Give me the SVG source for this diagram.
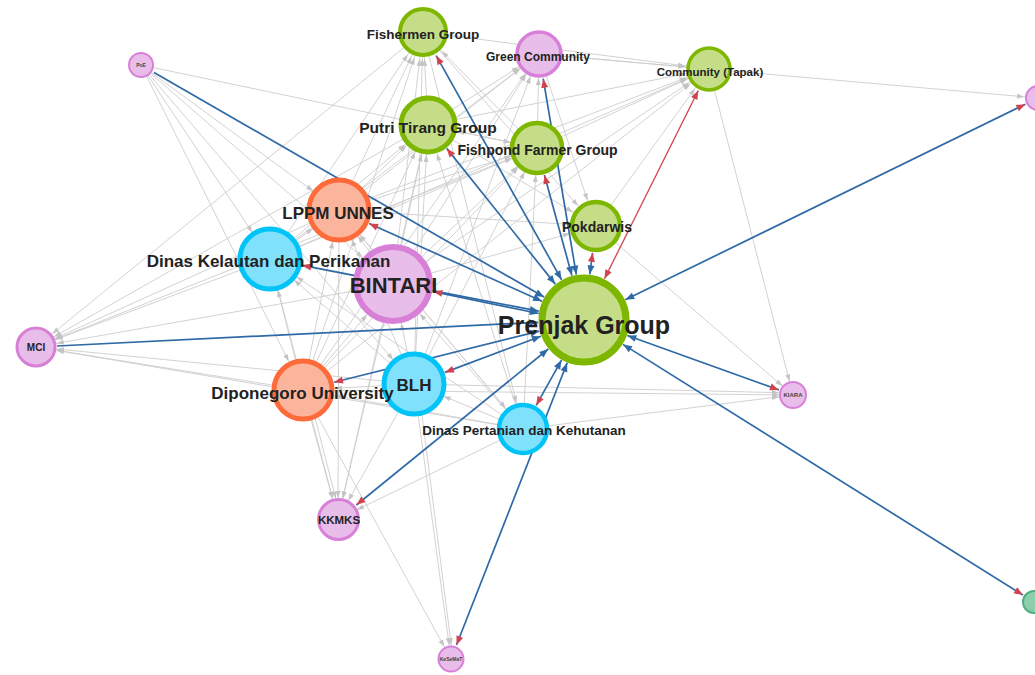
<svg xmlns="http://www.w3.org/2000/svg" width="1035" height="675" viewBox="0 0 1035 675">
<style>
.g{stroke:#cdcdcd;stroke-width:0.9;fill:none}
.g15{marker-end:url(#m15)}.g22{marker-end:url(#m22)}.g25{marker-end:url(#m25)}.g28{marker-end:url(#m28)}.g31{marker-end:url(#m31)}.g33{marker-end:url(#m33)}.g41{marker-end:url(#m41)}
.b{stroke:#2f6aa6;stroke-width:1.7;fill:none;marker-end:url(#ab)}
.bb{marker-start:url(#ar)}
.r{stroke:#d0434f;stroke-width:1.3;fill:none;marker-start:url(#ar);marker-end:url(#ar)}
.gr{fill:#c5dd86;stroke:#7db700}
.pk{fill:#e9bde9;stroke:#d880d8}
.or{fill:#fcb59d;stroke:#fd6b3b}
.cy{fill:#80e1fc;stroke:#00c3f7}
.tl{fill:#8dcfaa;stroke:#4caf7f}
.t{font-family:"Liberation Sans",Arial,sans-serif;font-weight:bold;fill:#222;text-anchor:middle}
.s{fill:#444}
</style>
<defs>
<marker id="m15" markerUnits="userSpaceOnUse" markerWidth="7" markerHeight="5" refX="21" refY="2.5" orient="auto" overflow="visible"><path d="M0,0L7,2.5L0,5z" fill="#c4c4c4"/></marker>
<marker id="m22" markerUnits="userSpaceOnUse" markerWidth="7" markerHeight="5" refX="28" refY="2.5" orient="auto" overflow="visible"><path d="M0,0L7,2.5L0,5z" fill="#c4c4c4"/></marker>
<marker id="m25" markerUnits="userSpaceOnUse" markerWidth="7" markerHeight="5" refX="31" refY="2.5" orient="auto" overflow="visible"><path d="M0,0L7,2.5L0,5z" fill="#c4c4c4"/></marker>
<marker id="m28" markerUnits="userSpaceOnUse" markerWidth="7" markerHeight="5" refX="34" refY="2.5" orient="auto" overflow="visible"><path d="M0,0L7,2.5L0,5z" fill="#c4c4c4"/></marker>
<marker id="m31" markerUnits="userSpaceOnUse" markerWidth="7" markerHeight="5" refX="37" refY="2.5" orient="auto" overflow="visible"><path d="M0,0L7,2.5L0,5z" fill="#c4c4c4"/></marker>
<marker id="m33" markerUnits="userSpaceOnUse" markerWidth="7" markerHeight="5" refX="39" refY="2.5" orient="auto" overflow="visible"><path d="M0,0L7,2.5L0,5z" fill="#c4c4c4"/></marker>
<marker id="m41" markerUnits="userSpaceOnUse" markerWidth="7" markerHeight="5" refX="47" refY="2.5" orient="auto" overflow="visible"><path d="M0,0L7,2.5L0,5z" fill="#c4c4c4"/></marker>
<marker id="ab" markerUnits="userSpaceOnUse" markerWidth="9" markerHeight="7" refX="9" refY="3.5" orient="auto-start-reverse" overflow="visible"><path d="M0,0L9,3.5L0,7z" fill="#2f6aa6"/></marker>
<marker id="ar" markerUnits="userSpaceOnUse" markerWidth="9" markerHeight="7" refX="9" refY="3.5" orient="auto-start-reverse" overflow="visible"><path d="M0,0L9,3.5L0,7z" fill="#d0434f"/></marker>
</defs>
<rect width="1035" height="675" fill="#fff"/>
<g id="connectors">
<g id="gray-edges">
<line class="g g33" x1="141" y1="65" x2="270" y2="259"/>
<line class="g g33" x1="141" y1="65" x2="303" y2="390"/>
<line class="g g41" x1="141" y1="65" x2="393" y2="284"/>
<line class="g g33" x1="141" y1="65" x2="414" y2="384"/>
<line class="g g28" x1="141" y1="65" x2="537" y2="148"/>
<line class="g g33" x1="141" y1="65" x2="339" y2="210"/>
<line class="g g15" x1="539" y1="54" x2="1038" y2="98"/>
<line class="g g15" x1="709" y1="69" x2="793" y2="395"/>
<line class="g g15" x1="596" y1="226" x2="793" y2="395"/>
<line class="g g15" x1="523" y1="429" x2="793" y2="395"/>
<line class="g g15" x1="303" y1="390" x2="793" y2="395"/>
<line class="g g15" x1="414" y1="384" x2="793" y2="393"/>
<line class="g g22" x1="339" y1="210" x2="36" y2="347"/>
<line class="g g22" x1="270" y1="259" x2="36" y2="347"/>
<line class="g g22" x1="393" y1="284" x2="36" y2="347"/>
<line class="g g22" x1="428" y1="125" x2="36" y2="347"/>
<line class="g g22" x1="303" y1="390" x2="36" y2="347"/>
<line class="g g22" x1="414" y1="384" x2="36" y2="347"/>
<line class="g g22" x1="523" y1="429" x2="36" y2="347"/>
<line class="g g22" x1="423" y1="32" x2="36" y2="347"/>
<line class="g g22" x1="537" y1="148" x2="36" y2="347"/>
<line class="g g22" x1="303" y1="390" x2="338" y2="519"/>
<line class="g g22" x1="308" y1="390" x2="341" y2="519"/>
<line class="g g22" x1="339" y1="210" x2="338" y2="519"/>
<line class="g g22" x1="270" y1="259" x2="338" y2="519"/>
<line class="g g22" x1="393" y1="284" x2="338" y2="519"/>
<line class="g g22" x1="414" y1="384" x2="338" y2="519"/>
<line class="g g22" x1="523" y1="429" x2="338" y2="519"/>
<line class="g g22" x1="428" y1="125" x2="338" y2="519"/>
<line class="g g15" x1="303" y1="390" x2="451" y2="659"/>
<line class="g g15" x1="414" y1="384" x2="451" y2="659"/>
<line class="g g15" x1="418" y1="384" x2="453" y2="659"/>
<line class="g g25" x1="423" y1="32" x2="709" y2="69"/>
<line class="g g25" x1="539" y1="54" x2="709" y2="69"/>
<line class="g g25" x1="428" y1="125" x2="709" y2="69"/>
<line class="g g25" x1="537" y1="148" x2="709" y2="69"/>
<line class="g g25" x1="339" y1="210" x2="709" y2="69"/>
<line class="g g25" x1="393" y1="284" x2="709" y2="69"/>
<line class="g g25" x1="270" y1="259" x2="709" y2="69"/>
<line class="g g25" x1="596" y1="226" x2="709" y2="69"/>
<line class="g g25" x1="303" y1="390" x2="709" y2="69"/>
<line class="g g25" x1="428" y1="125" x2="539" y2="54"/>
<line class="g g25" x1="339" y1="210" x2="539" y2="54"/>
<line class="g g25" x1="270" y1="259" x2="539" y2="54"/>
<line class="g g25" x1="393" y1="284" x2="539" y2="54"/>
<line class="g g25" x1="537" y1="148" x2="539" y2="54"/>
<line class="g g25" x1="414" y1="384" x2="539" y2="54"/>
<line class="g g25" x1="303" y1="390" x2="539" y2="54"/>
<line class="g g28" x1="539" y1="54" x2="596" y2="226"/>
<line class="g g28" x1="428" y1="125" x2="423" y2="32"/>
<line class="g g28" x1="339" y1="210" x2="423" y2="32"/>
<line class="g g28" x1="270" y1="259" x2="423" y2="32"/>
<line class="g g28" x1="393" y1="284" x2="423" y2="32"/>
<line class="g g28" x1="303" y1="390" x2="423" y2="32"/>
<line class="g g28" x1="414" y1="384" x2="423" y2="32"/>
<line class="g g28" x1="537" y1="148" x2="423" y2="32"/>
<line class="g g31" x1="339" y1="210" x2="428" y2="125"/>
<line class="g g31" x1="270" y1="259" x2="428" y2="125"/>
<line class="g g31" x1="393" y1="284" x2="428" y2="125"/>
<line class="g g31" x1="303" y1="390" x2="428" y2="125"/>
<line class="g g31" x1="414" y1="384" x2="428" y2="125"/>
<line class="g g31" x1="537" y1="148" x2="428" y2="125"/>
<line class="g g31" x1="523" y1="429" x2="428" y2="125"/>
<line class="g g28" x1="339" y1="210" x2="537" y2="148"/>
<line class="g g28" x1="270" y1="259" x2="537" y2="148"/>
<line class="g g28" x1="393" y1="284" x2="537" y2="148"/>
<line class="g g28" x1="303" y1="390" x2="537" y2="148"/>
<line class="g g28" x1="414" y1="384" x2="537" y2="148"/>
<line class="g g28" x1="523" y1="429" x2="537" y2="148"/>
<line class="g g28" x1="339" y1="210" x2="596" y2="226"/>
<line class="g g28" x1="393" y1="284" x2="596" y2="226"/>
<line class="g g28" x1="423" y1="32" x2="596" y2="226"/>
<line class="g g28" x1="428" y1="125" x2="596" y2="226"/>
<line class="g g33" x1="270" y1="259" x2="339" y2="210"/>
<line class="g g33" x1="393" y1="284" x2="339" y2="210"/>
<line class="g g33" x1="303" y1="390" x2="339" y2="210"/>
<line class="g g33" x1="414" y1="384" x2="339" y2="210"/>
<line class="g g33" x1="523" y1="429" x2="339" y2="210"/>
<line class="g g33" x1="393" y1="284" x2="270" y2="259"/>
<line class="g g33" x1="303" y1="390" x2="270" y2="259"/>
<line class="g g33" x1="414" y1="384" x2="270" y2="259"/>
<line class="g g33" x1="523" y1="429" x2="270" y2="259"/>
<line class="g g41" x1="303" y1="390" x2="393" y2="284"/>
<line class="g g41" x1="414" y1="384" x2="393" y2="284"/>
<line class="g g41" x1="523" y1="429" x2="393" y2="284"/>
<line class="g g33" x1="414" y1="384" x2="303" y2="390"/>
<line class="g g33" x1="523" y1="429" x2="303" y2="390"/>
<line class="g g33" x1="523" y1="429" x2="414" y2="384"/>
<line class="g g28" x1="339" y1="210" x2="523" y2="429"/>
<line class="g g28" x1="423" y1="32" x2="523" y2="429"/>
</g>
<g id="prenjak-edges">
<line class="b" x1="154.0" y1="72.5" x2="544.1" y2="297.1"/>
<line class="b bb" x1="436.2" y1="55.6" x2="561.6" y2="279.8"/>
<line class="b bb" x1="543.2" y1="78.7" x2="576.3" y2="274.6"/>
<line class="r" x1="698.3" y1="90.5" x2="604.5" y2="278.8"/>
<line class="b bb" x1="446.7" y1="148.4" x2="555.3" y2="284.1"/>
<line class="b bb" x1="544.4" y1="175.0" x2="571.9" y2="275.6"/>
<line class="b bb" x1="592.6" y1="252.8" x2="589.8" y2="274.4"/>
<line class="b bb" x1="369.1" y1="223.5" x2="542.0" y2="301.2"/>
<line class="b bb" x1="302.4" y1="265.3" x2="538.8" y2="311.2"/>
<line class="b bb" x1="433.3" y1="291.6" x2="538.8" y2="313.5"/>
<line class="b" x1="57.0" y1="346.0" x2="538.1" y2="322.3"/>
<line class="b bb" x1="334.0" y1="382.3" x2="539.4" y2="331.1"/>
<line class="b bb" x1="444.9" y1="372.4" x2="540.9" y2="336.2"/>
<line class="b bb" x1="536.2" y1="405.4" x2="561.5" y2="360.1"/>
<line class="b bb" x1="356.4" y1="505.0" x2="548.3" y2="349.0"/>
<line class="b bb" x1="456.5" y1="645.0" x2="567.2" y2="362.8"/>
<line class="b bb" x1="778.9" y1="389.9" x2="627.3" y2="335.5"/>
<line class="b bb" x1="1025.4" y1="104.2" x2="625.3" y2="299.8"/>
<line class="b bb" x1="1023.0" y1="595.1" x2="623.0" y2="344.4"/>
</g>
</g>
<g id="node-kesemat"><circle class="pk" cx="451" cy="659" r="12.5" stroke-width="2"/><text class="t s" x="451" y="661" font-size="5">KeSeMaT</text></g>
<g id="node-kkmks"><circle class="pk" cx="338.5" cy="519.5" r="20" stroke-width="3"/><text class="t" x="339" y="524" font-size="11.5">KKMKS</text></g>
<g id="node-kiara"><circle class="pk" cx="793" cy="395" r="13" stroke-width="2"/><text class="t s" x="793" y="397" font-size="6">KIARA</text></g>
<g id="node-teal"><circle class="tl" cx="1034" cy="602" r="11" stroke-width="2"/></g>
<g id="node-right"><circle class="pk" cx="1038" cy="98" r="12" stroke-width="2"/></g>
<g id="node-poe"><circle class="pk" cx="141" cy="65" r="12" stroke-width="2"/><text class="t s" x="141" y="67" font-size="5">PoE</text></g>
<g id="node-mci"><circle class="pk" cx="36" cy="347" r="19" stroke-width="3"/><text class="t" x="36" y="351" font-size="10">MCI</text></g>
<g id="node-tapak"><circle class="gr" cx="709" cy="69" r="21" stroke-width="3.5"/><text class="t" x="710" y="75.5" font-size="11.5">Community (Tapak)</text></g>
<g id="node-green"><circle class="pk" cx="539" cy="54" r="22" stroke-width="3.5"/><text class="t" x="538" y="61" font-size="12">Green Community</text></g>
<g id="node-fishermen"><circle class="gr" cx="423" cy="32" r="23" stroke-width="4"/><text class="t" x="423" y="39" font-size="13.5">Fishermen Group</text></g>
<g id="node-fishpond"><circle class="gr" cx="537" cy="148" r="25" stroke-width="4.5"/><text class="t" x="537.5" y="155" font-size="14">Fishpond Farmer Group</text></g>
<g id="node-putri"><circle class="gr" cx="428" cy="125" r="27" stroke-width="5"/><text class="t" x="428" y="133" font-size="15.5">Putri Tirang Group</text></g>
<g id="node-pokdarwis"><circle class="gr" cx="596" cy="226" r="24" stroke-width="4.5"/><text class="t" x="597" y="231.5" font-size="14">Pokdarwis</text></g>
<g id="node-prenjak"><circle class="gr" cx="584" cy="320" r="42" stroke-width="7"/><text class="t" x="584" y="334" font-size="25">Prenjak Group</text></g>
<g id="node-dpk"><circle class="cy" cx="523" cy="429" r="24" stroke-width="4.5"/><text class="t" x="524" y="435" font-size="13.5">Dinas Pertanian dan Kehutanan</text></g>
<g id="node-lppm"><circle class="or" cx="339" cy="210" r="30" stroke-width="5"/><text class="t" x="338" y="218.5" font-size="17">LPPM UNNES</text></g>
<g id="node-bintari"><circle class="pk" cx="393" cy="284" r="37" stroke-width="6"/><text class="t" x="393.5" y="293" font-size="22">BINTARI</text></g>
<g id="node-dkp"><circle class="cy" cx="270" cy="259" r="30" stroke-width="5"/><text class="t" x="268.5" y="267" font-size="17">Dinas Kelautan dan Perikanan</text></g>
<g id="node-blh"><circle class="cy" cx="414" cy="384" r="30" stroke-width="5"/><text class="t" x="414" y="391" font-size="17">BLH</text></g>
<g id="node-undip"><circle class="or" cx="303" cy="390" r="29" stroke-width="5"/><text class="t" x="302.5" y="399" font-size="17">Diponegoro University</text></g>
</svg>
